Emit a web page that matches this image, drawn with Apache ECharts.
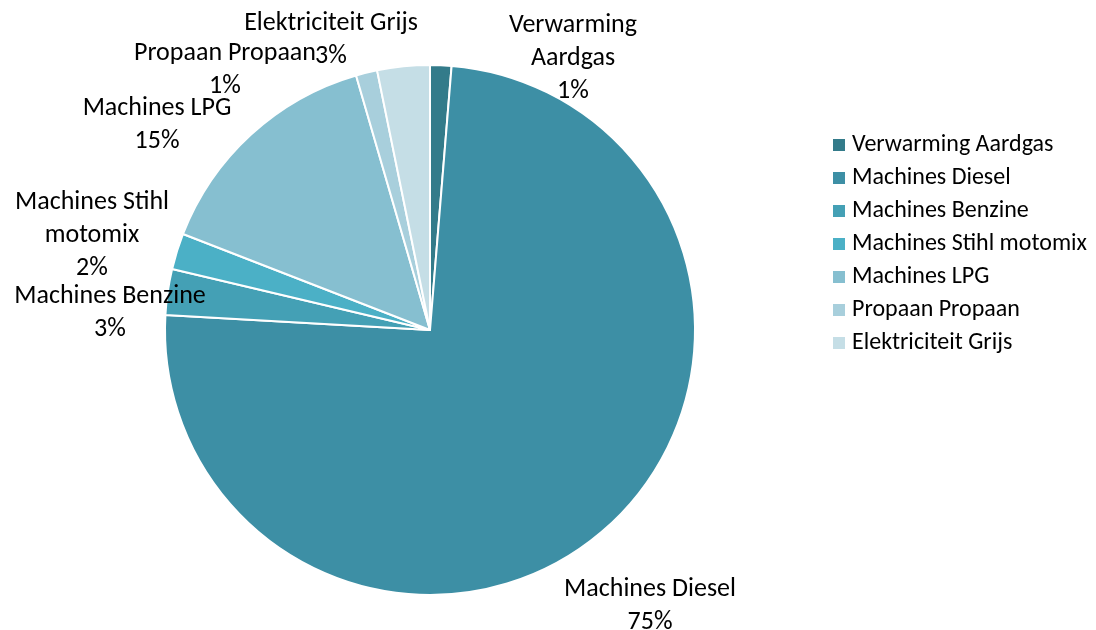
<!DOCTYPE html>
<html>
<head>
<meta charset="utf-8">
<script src="https://cdn.jsdelivr.net/npm/echarts@6/dist/echarts.min.js"></script>
<style>html,body{margin:0;padding:0;background:#fff}#c{width:1096px;height:630px}</style>
</head>
<body>
<div id="c"></div>
<script>
const categories = ['Verwarming Aardgas','Machines Diesel','Machines Benzine','Machines Stihl motomix','Machines LPG','Propaan Propaan','Elektriciteit Grijs'];
const values = [1.3, 74.6, 2.8, 2.2, 14.6, 1.3, 3.2];
const colors = ['#337b8a','#3d8fa5','#44a0b5','#4bb0c6','#86bfd0','#a8cfdc','#c5dee6'];
const wrapped = {'Verwarming Aardgas':'Verwarming\nAardgas','Machines Stihl motomix':'Machines Stihl\nmotomix'};
// label block centres (layout only, Excel-style data label placement)
const labelPos = [[573,58],[650,606],[110,313],[92,235],[157,125],[225,70],[331,40]];
const total = values.reduce((a,b)=>a+b,0);
const chart = echarts.init(document.getElementById('c'));
const font = 'Carlito, Calibri, Lato, sans-serif';
chart.setOption({
  animation:false,
  color: colors,
  legend:{
    orient:'vertical', left:831, top:133, padding:0, itemWidth:14, itemHeight:14, itemGap:9,
    icon:'rect',
    textStyle:{fontFamily:font, fontSize:24, lineHeight:24, color:'#000', padding:[0,0,0,1]},
    data: categories
  },
  series:[{
    type:'pie',
    center:[430,330], radius:265,
    startAngle:90, clockwise:true,
    itemStyle:{borderColor:'#fff', borderWidth:2},
    label:{
      show:true, position:'outside', overflow:'none', edgeDistance:0,
      fontFamily:font, fontSize:26, color:'#000', lineHeight:33, align:'center',
      formatter: p => (wrapped[p.name]||p.name) + '\n' + Math.round(p.value/total*100) + '%'
    },
    labelLine:{show:false},
    labelLayout: p => ({x: labelPos[p.dataIndex][0], y: labelPos[p.dataIndex][1], align:'center', verticalAlign:'middle'}),
    data: categories.map((n,i)=>({name:n, value:values[i]}))
  }]
});
</script>
</body>
</html>
